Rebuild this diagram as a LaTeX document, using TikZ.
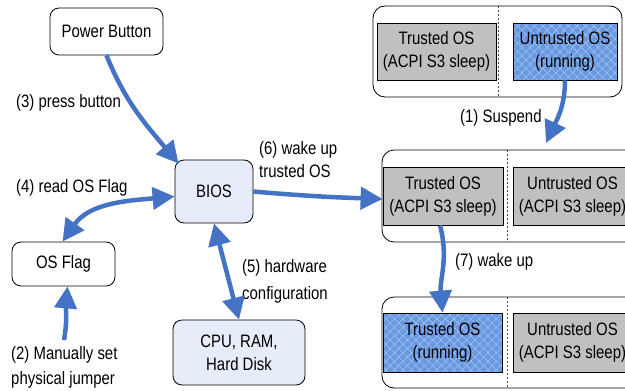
\documentclass[tikz,border=0pt]{standalone}
\usepackage{fontspec}
\setmainfont{Liberation Sans}[FakeStretch=0.83]
\usetikzlibrary{arrows.meta,patterns,patterns.meta}
\definecolor{arrowblue}{RGB}{68,114,196}
\definecolor{lightbox}{RGB}{230,237,248}
\definecolor{grayfill}{RGB}{192,192,192}
\definecolor{runblue}{RGB}{104,152,224}
\definecolor{hatchblue}{RGB}{160,195,240}
\begin{document}
\begin{tikzpicture}[x=1pt,y=-1pt,
  every node/.style={font=\fontsize{18}{23}\selectfont, align=center, inner sep=0pt},
  roundbox/.style={draw, rounded corners=9pt, line width=0.8pt, fill=white},
  biosbox/.style={roundbox, fill=lightbox},
  sleepbox/.style={draw, line width=0.8pt, fill=grayfill},
  runbox/.style={draw, line width=0.8pt,
    preaction={fill=runblue},
    preaction={pattern={Lines[angle=45,distance=6pt,line width=0.6pt]}, pattern color=hatchblue},
    pattern={Lines[angle=-45,distance=6pt,line width=0.6pt]}, pattern color=hatchblue},
  container/.style={draw, rounded corners=12pt, line width=0.8pt},
  divider/.style={draw=black!70, line width=0.5pt, dash pattern=on 2pt off 2pt},
  flow/.style={draw=arrowblue, line width=4.5pt, -{Triangle[width=22pt,length=22pt]}},
  flowboth/.style={draw=arrowblue, line width=4.5pt, {Triangle[width=22pt,length=22pt]}-{Triangle[width=22pt,length=22pt]}},
  lbl/.style={anchor=west, align=left}
]
\useasboundingbox (0,0) rectangle (625,391);
\clip (0,0) rectangle (625,391);

% left side nodes
\node[roundbox, minimum width=113, minimum height=47] (pwr) at (106.5,31.5) {Power Button};
\node[biosbox, minimum width=78, minimum height=63] (bios) at (214,191.5) {BIOS};
\node[roundbox, minimum width=103, minimum height=44] (flag) at (63.5,264) {OS Flag};
\node[biosbox, minimum width=132, minimum height=65] (hw) at (239,352.5) {CPU, RAM,\\Hard Disk};
\coordinate (jmp) at (64,340);

% right side containers
\node[container, minimum width=249, minimum height=91] (c1) at (497.5,51.5) {};
\draw[divider] (498,6) -- (498,97);
\node[sleepbox, minimum width=119, minimum height=57] (t1) at (436.5,51.5) {Trusted OS\\(ACPI S3 sleep)};
\node[runbox, minimum width=104, minimum height=57] (u1) at (565,51.5) {Untrusted OS\\(running)};

\node[container, minimum width=260, minimum height=92] (c2) at (512,196) {};
\draw[divider] (507,150) -- (507,242);
\node[sleepbox, minimum width=120, minimum height=58] (t2) at (443,196) {Trusted OS\\(ACPI S3 sleep)};
\node[sleepbox, minimum width=119, minimum height=58] (u2) at (572.5,196) {Untrusted OS\\(ACPI S3 sleep)};

\node[container, minimum width=260, minimum height=91] (c3) at (512,342.5) {};
\draw[divider] (507,297) -- (507,388);
\node[runbox, minimum width=119, minimum height=59] (t3) at (442.5,342.5) {Trusted OS\\(running)};
\node[sleepbox, minimum width=119, minimum height=59] (u3) at (572.5,342.5) {Untrusted OS\\(ACPI S3 sleep)};
\coordinate (susp) at (546,143);

% labels
\node[lbl] (l3) at (16,103) {(3) press button};
\node[lbl] (l4) at (16,188) {(4) read OS Flag};
\node[lbl] (l6) at (259,160) {(6) wake up\\trusted OS};
\node[lbl, font=\fontsize{18}{27}\selectfont] (l5) at (242,281.5) {(5) hardware\\configuration};
\node[lbl, font=\fontsize{18}{25}\selectfont] (l2) at (11,367.5) {(2) Manually set\\physical jumper};
\node[lbl] (l1) at (460,118) {(1) Suspend};
\node[lbl] (l7) at (455,262) {(7) wake up};

% connectors
\draw[flow] (pwr.south) to[out=-68, in=130] ([xshift=4pt,yshift=-4pt]bios.north west);
\draw[flowboth] ([xshift=-1pt]flag.north) to[out=55, in=185] ([yshift=-5pt]bios.west);
\draw[flow] (jmp) to[out=80, in=-95] ([xshift=4pt]flag.south);
\draw[flowboth] (bios.south) -- (hw.north);
\draw[flow] (bios.east) to[out=-5, in=178] ([yshift=-3pt]t2.west);
\draw[flow] (u1.south) to[out=-90, in=65] (susp);
\draw[flow] ([xshift=-3pt]t2.south) to[out=-75, in=95] (t3.north);
\end{tikzpicture}
\end{document}
